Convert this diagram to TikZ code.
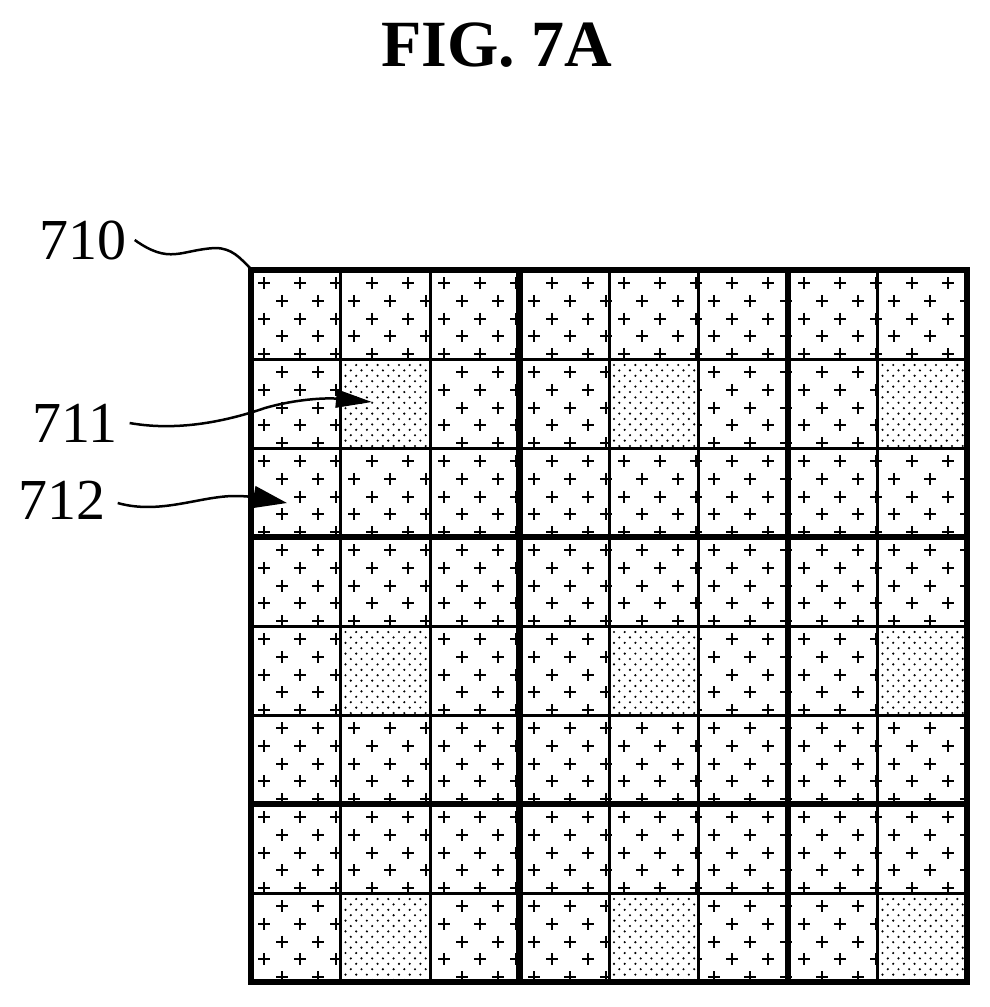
\documentclass[tikz,border=0pt]{standalone}
\usepackage{fontspec}
\setmainfont{Liberation Serif}
\usetikzlibrary{arrows.meta}
\tikzset{
  thin grid/.style={line width=3pt},
  thick grid/.style={line width=6.5pt},
  plus/.style={line width=2pt},
  leader/.style={line width=2.5pt},
  ref/.style={font=\fontsize{58}{58}\selectfont,inner sep=0pt}
}
\begin{document}
\begin{tikzpicture}[x=1pt,y=-1pt]
  \useasboundingbox (0,0) rectangle (989,1007);
  \node[font=\bfseries\fontsize{66}{66}\selectfont] (title) at (497,45) {FIG. 7A};
  % plus pattern over the whole grid
  \begin{scope}
    \clip (251,270) rectangle (967,982);
    \foreach \i in {0,...,20} {
      \foreach \j in {0,...,20} {
        \draw[plus] (264+36*\i-6,283+35.6*\j) -- ++(12,0) (264+36*\i,283+35.6*\j-6) -- ++(0,12);
        \draw[plus] (282+36*\i-6,300.8+35.6*\j) -- ++(12,0) (282+36*\i,300.8+35.6*\j-6) -- ++(0,12);
      }
    }
  \end{scope}
  % dotted cells
  \foreach \c in {1,4,7} {
    \foreach \r in {1,4,7} {
      \fill[white] (251+89.5*\c,270+89*\r) rectangle ++(89.5,89);
      \begin{scope}
        \clip (251+89.5*\c+2,270+89*\r+2) rectangle ++(86,86);
        \foreach \a in {0,...,8} {
          \foreach \b in {0,...,8} {
            \fill (251+89.5*\c+5+10.7*\a,270+89*\r+6+10.8*\b) circle (1.2pt);
            \fill (251+89.5*\c+10.3+10.7*\a,270+89*\r+11.4+10.8*\b) circle (1.2pt);
          }
        }
      \end{scope}
    }
  }
  % grid lines
  \foreach \k in {1,2,4,5,7} {
    \draw[thin grid] (251+89.5*\k,270) -- (251+89.5*\k,982);
    \draw[thin grid] (251,270+89*\k) -- (967,270+89*\k);
  }
  \foreach \k in {3,6} {
    \draw[thick grid] (251+89.5*\k,270) -- (251+89.5*\k,982);
    \draw[thick grid] (251,270+89*\k) -- (967,270+89*\k);
  }
  \draw[thick grid] (251,270) rectangle (967,982);
  % reference labels
  \node[ref] (l710) at (83,240) {710};
  \node[ref] (l711) at (75,423) {711};
  \node[ref] (l712) at (62,500) {712};
  \coordinate (c710) at (250,268);
  \coordinate (c711) at (372,402);
  \coordinate (c712) at (287,503);
  \draw[leader] (l710.east) ++(8,0) .. controls (170,265) and (180,250) .. (215,248) .. controls (232,248) and (240,258) .. (c710);
  \draw[leader,-{Stealth[length=36pt,width=18pt,inset=0pt]}] (l711.east) ++(12,0) .. controls (180,432) and (230,420) .. (265,408) .. controls (300,398) and (330,398) .. (c711);
  \draw[leader,-{Stealth[length=34pt,width=22pt,inset=0pt]}] (l712.east) ++(12,3) .. controls (160,515) and (200,496) .. (235,496) .. controls (255,496) and (270,500) .. (c712);
\end{tikzpicture}
\end{document}
